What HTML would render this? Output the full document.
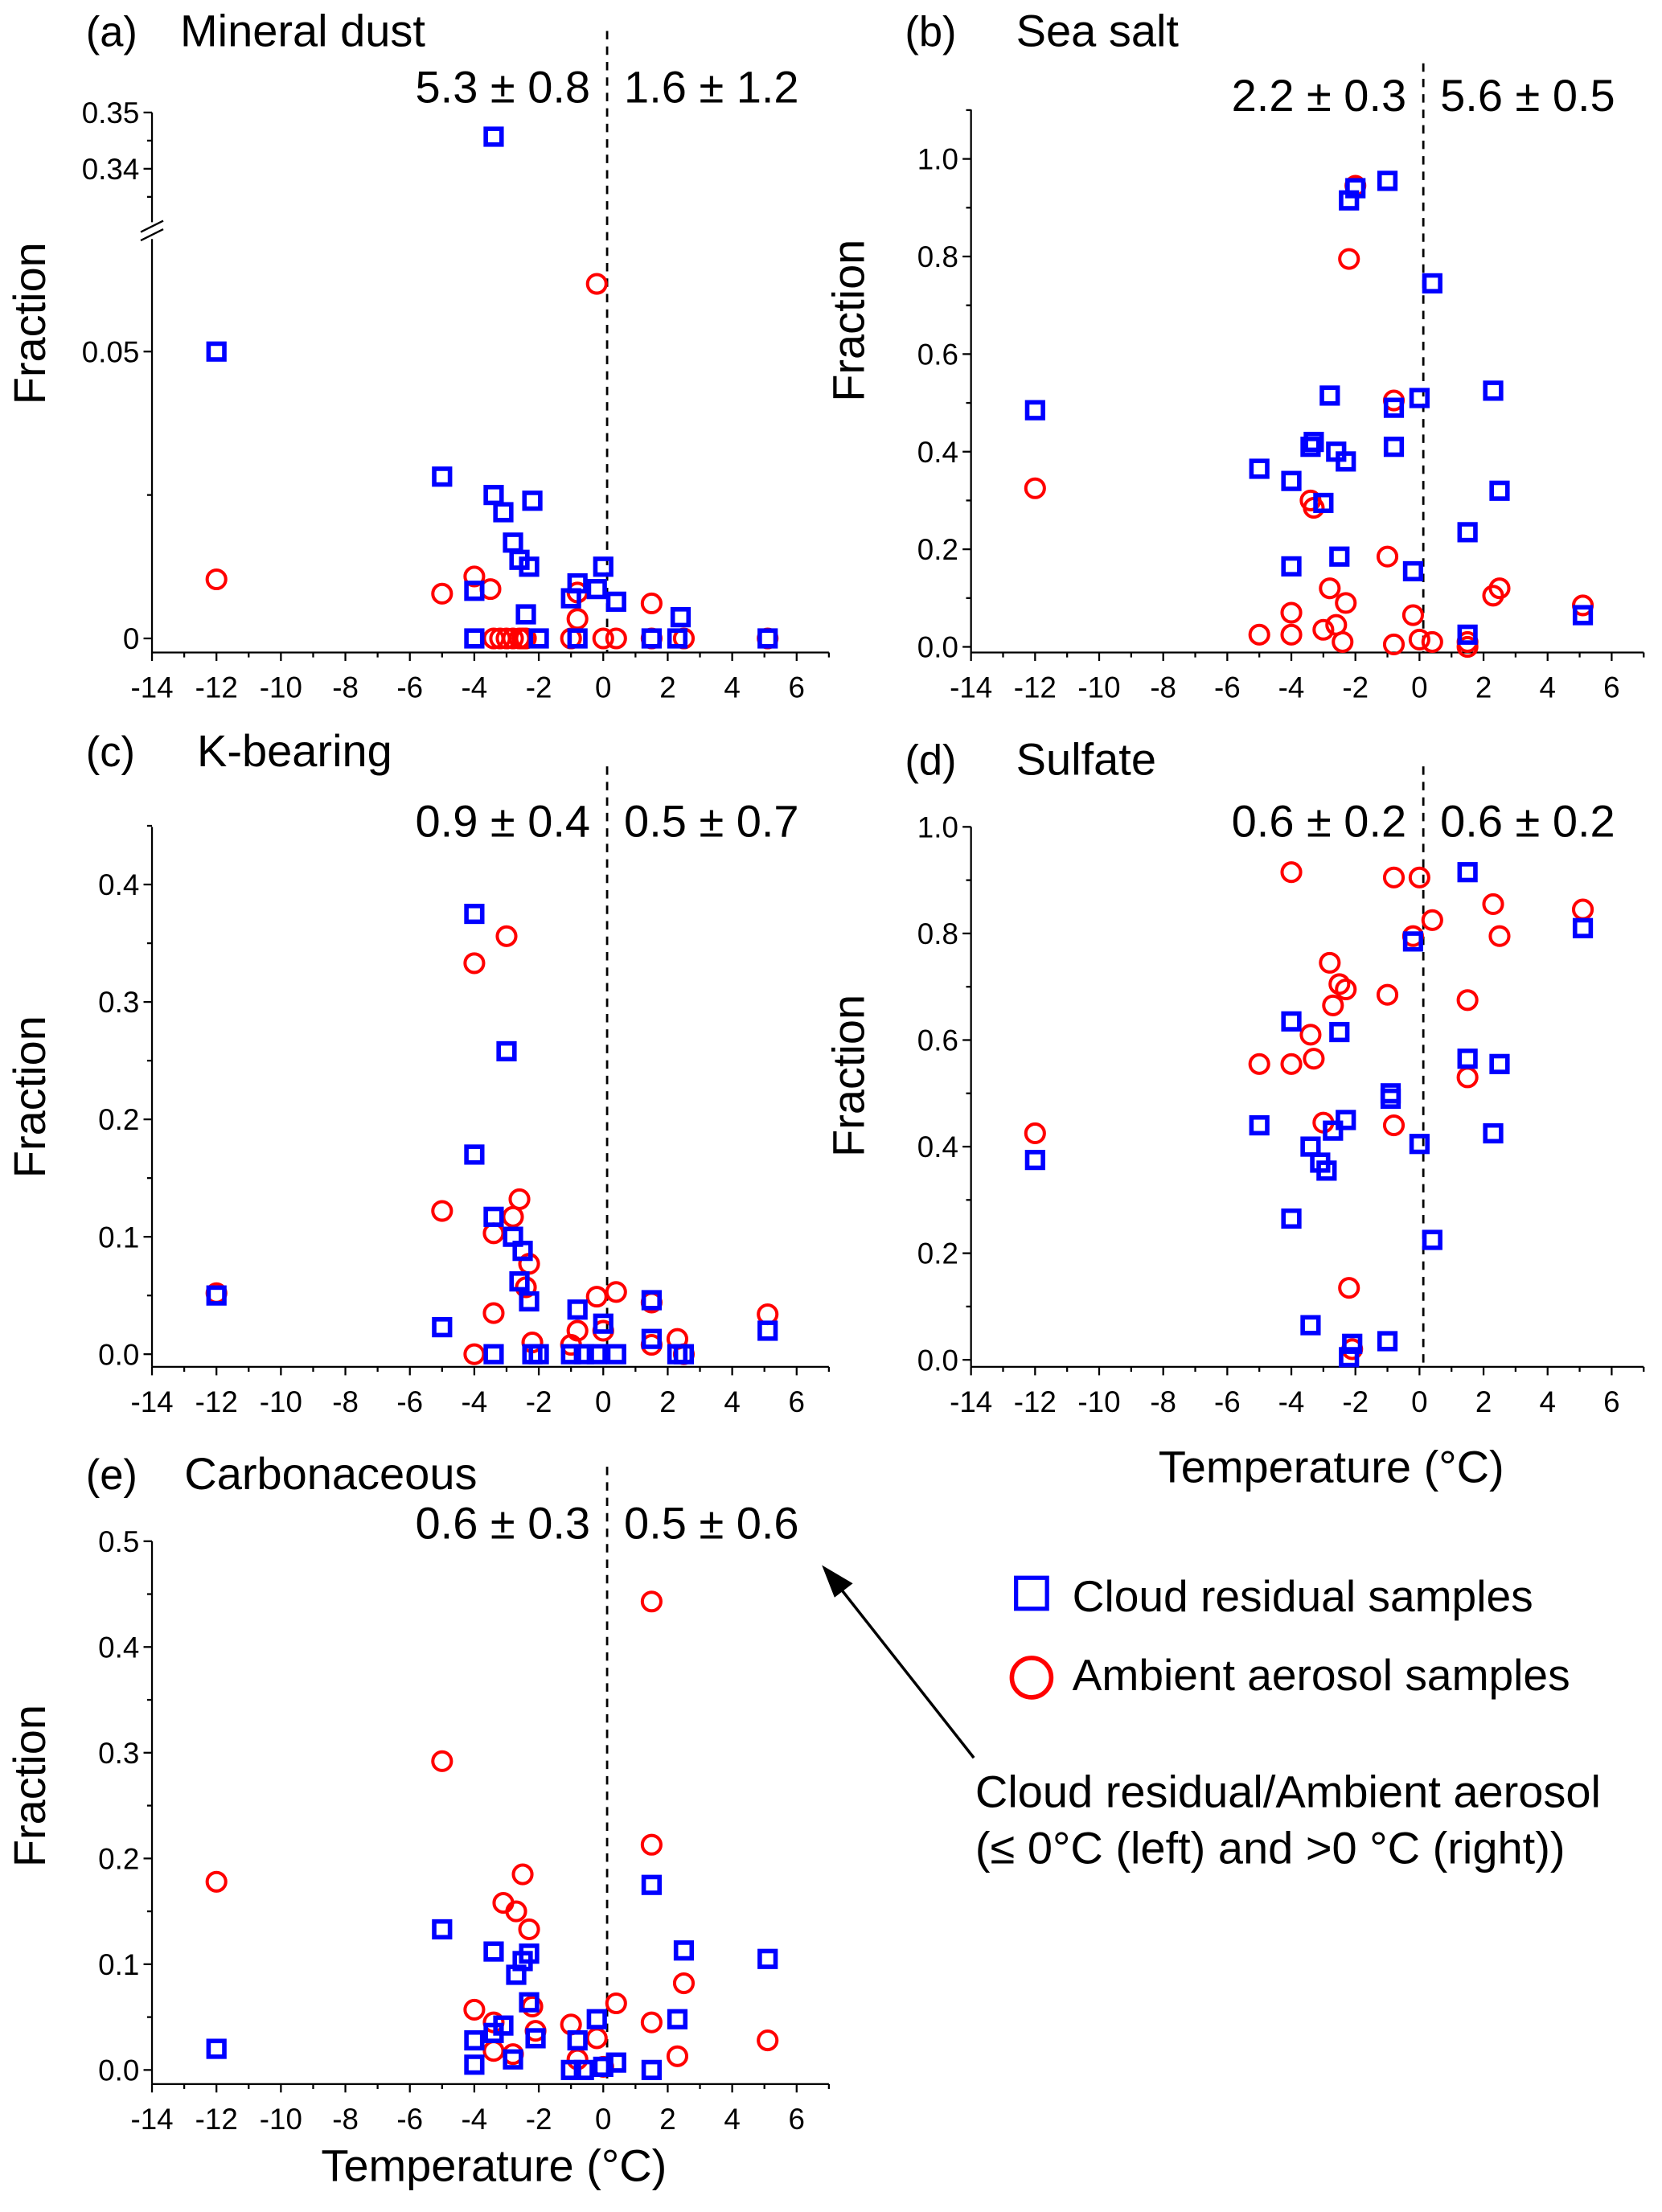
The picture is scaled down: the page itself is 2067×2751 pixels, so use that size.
<!DOCTYPE html>
<html><head><meta charset="utf-8">
<style>
html,body{margin:0;padding:0;background:#fff;}
svg{display:block;font-family:"Liberation Sans",Arial,sans-serif;}
</style></head>
<body>
<svg id="fig" width="2067" height="2751" viewBox="0 0 1181 1573" preserveAspectRatio="none" xmlns="http://www.w3.org/2000/svg">
<g id="root"></g>
</svg>
<script>
// ---- data (temperature °C, fraction) ----
const aBlueT = [-12,-5,-3.4,-3.1,-2.2,-2.8,-2.6,-2.3,-4,-2.4,-1.0,-0.8,-0.2,0,0.4,2.4,-4,-2,-0.8,1.5,2.3,5.1,-3.4];
const aBlueF = [0.05,0.0282,0.025,0.022,0.024,0.0167,0.0137,0.0125,0.0083,0.0042,0.007,0.0096,0.0086,0.0125,0.0064,0.0037,0,0,0,0,0,0,0.3457];
const aRedT = [-12,-5,-4,-3.5,-0.8,-0.8,1.5,-0.2,-3.4,-3.2,-3.0,-2.8,-2.6,-2.5,-2.4,-1.0,0,0.4,1.5,2.5,5.1];
const aRedF = [0.0103,0.0078,0.0108,0.0086,0.008,0.0034,0.0061,0.0618,0,0,0,0,0,0,0,0,0,0,0,0,0];

const bBlueT = [-12,-5,-4,-4,-3.4,-3.3,-3.0,-2.8,-2.6,-2.5,-2.3,-2.2,-2.0,-1.0,-0.8,-0.8,-0.2,0,0.4,1.5,1.5,2.3,2.5,5.1];
const bBlueF = [0.485,0.365,0.34,0.165,0.41,0.42,0.295,0.515,0.4,0.185,0.38,0.915,0.94,0.955,0.49,0.41,0.155,0.51,0.745,0.235,0.025,0.525,0.32,0.065];
const bRedT = [-12,-5,-4,-4,-3.4,-3.3,-3.0,-2.8,-2.6,-2.4,-2.3,-2.2,-2.0,-1.0,-0.8,-0.8,-0.2,0,0.4,1.5,1.5,2.3,2.5,5.1];
const bRedF = [0.325,0.025,0.07,0.025,0.3,0.285,0.035,0.12,0.045,0.01,0.09,0.795,0.945,0.185,0.505,0.005,0.065,0.015,0.01,0.01,0.0,0.105,0.12,0.085];

const cBlueT = [-12,-5,-4,-4,-3.4,-3.4,-3.0,-2.8,-2.6,-2.5,-2.3,-2.2,-2.0,-1.0,-0.8,-0.6,-0.2,0,0.4,1.5,1.5,2.3,2.5,5.1];
const cBlueF = [0.05,0.023,0.375,0.17,0.117,0.0,0.258,0.1,0.062,0.088,0.045,0.0,0.0,0.0,0.038,0.0,0.0,0.026,0.0,0.046,0.013,0.0,0.0,0.02];
const cRedT = [-12,-5,-4,-4,-3.4,-3.4,-3.0,-2.8,-2.6,-2.4,-2.3,-2.2,-1.0,-0.8,-0.2,0,0.4,1.5,1.5,2.3,2.5,5.1];
const cRedF = [0.052,0.122,0.333,0.0,0.035,0.103,0.356,0.117,0.132,0.057,0.077,0.01,0.008,0.02,0.049,0.02,0.053,0.044,0.008,0.013,0.0,0.034];

const dBlueT = [-12,-5,-4,-4,-3.4,-3.4,-3.1,-2.9,-2.7,-2.5,-2.3,-2.1,-2.2,-0.9,-0.9,-1.0,-0.2,0,0.4,1.5,1.5,2.3,2.5,5.1];
const dBlueF = [0.375,0.44,0.635,0.265,0.4,0.065,0.37,0.355,0.43,0.615,0.45,0.03,0.005,0.5,0.49,0.035,0.785,0.405,0.225,0.915,0.565,0.425,0.555,0.81];
const dRedT = [-12,-5,-4,-4,-3.4,-3.3,-3.0,-2.8,-2.7,-2.5,-2.3,-2.2,-2.1,-1.0,-0.8,-0.8,-0.2,0,0.4,1.5,1.5,2.3,2.5,5.1];
const dRedF = [0.425,0.555,0.915,0.555,0.61,0.565,0.445,0.745,0.665,0.705,0.695,0.135,0.02,0.685,0.905,0.44,0.795,0.905,0.825,0.675,0.53,0.855,0.795,0.845];

const eBlueT = [-12,-5,-4,-4,-3.4,-3.4,-3.1,-2.8,-2.7,-2.5,-2.3,-2.3,-2.1,-1.0,-0.8,-0.6,-0.2,0,0.4,1.5,1.5,2.3,2.5,5.1];
const eBlueF = [0.02,0.133,0.028,0.005,0.112,0.035,0.042,0.01,0.09,0.103,0.11,0.064,0.03,0.0,0.028,0.0,0.048,0.003,0.007,0.175,0.0,0.048,0.113,0.105];
const eRedT = [-12,-5,-4,-3.4,-3.4,-3.1,-2.8,-2.7,-2.5,-2.3,-2.2,-2.1,-1.0,-0.8,-0.2,0,0.4,1.5,1.5,1.5,2.3,2.5,5.1];
const eRedF = [0.178,0.292,0.057,0.045,0.018,0.158,0.015,0.15,0.185,0.133,0.06,0.037,0.043,0.01,0.03,0.003,0.063,0.443,0.213,0.045,0.013,0.082,0.028];

const xTickLabels = ["-14","-12","-10","-8","-6","-4","-2","0","2","4","6"];
const statsA = ["5.3 ± 0.8","1.6 ± 1.2"];
const statsB = ["2.2 ± 0.3","5.6 ± 0.5"];
const statsC = ["0.9 ± 0.4","0.5 ± 0.7"];
const statsD = ["0.6 ± 0.2","0.6 ± 0.2"];
const statsE = ["0.6 ± 0.3","0.5 ± 0.6"];

// ---- drawing ----
const NS = "http://www.w3.org/2000/svg";
const root = document.getElementById('root');
function mk(tag, attrs, parent, txt){
  const e = document.createElementNS(NS, tag);
  for (const k in attrs) e.setAttribute(k, attrs[k]);
  if (txt !== undefined) e.textContent = txt;
  (parent||root).appendChild(e);
  return e;
}
function line(x1,y1,x2,y2,p,extra){ const o={x1,y1,x2,y2,stroke:'#000','stroke-width':1.3}; Object.assign(o,extra||{}); return mk('line',o,p); }

function drawPanel(cfg){
  const g = mk('g',{});
  
  
  const L=cfg.left, R=cfg.right, B=cfg.bottom;
  const unit=(R-L)/21;
  const xs = v => L + (v+14)*unit;
  const ys = cfg.ys;
  const xa = line(L,B,R,B,g);
  
  
  for (let v=-14; v<=7; v++){
    const major = (v%2===0);
    line(xs(v),B,xs(v),B+(major?6:3.5),g);
  }
  xTickLabels.forEach((lab,i)=>{
    const v=-14+2*i;
    const t = mk('text',{x:xs(v),y:B+32,'text-anchor':'middle','font-size':21},g,lab);
    
    
  });
  cfg.ySegs.forEach(s=>{
    const ya=line(L,s[0],L,s[1],g);
    
    
  });
  cfg.yTicks.forEach(t=>{
    const y=ys(t[0]);
    line(L-(t[1]?6:3.5),y,L,y,g);
    if (t[1]) {
      const tl = mk('text',{x:L-9,y:y+7.5,'text-anchor':'end','font-size':21},g,t[1]);
      
      
    }
  });
  const yt = mk('text',{x:0,y:0,transform:`translate(${L-76},${cfg.yTitleY}) rotate(-90)`,'text-anchor':'middle','font-size':32},g,'Fraction');
  
  
  const pl = mk('text',{x:cfg.left-47,y:cfg.titleY,'font-size':30},g,cfg.label);
  
  
  const pt = mk('text',{x:cfg.titleX,y:cfg.titleY,'font-size':32},g,cfg.title);
  
  
  const dl = line(xs(0.12),cfg.dashTop,xs(0.12),B,g,{'stroke-dasharray':'6,5','stroke-width':1.6});
  
  
  const s1 = mk('text',{x:xs(0.12)-12,y:cfg.statsY,'text-anchor':'end','font-size':32},g,cfg.stats[0]);
  
  
  const s2 = mk('text',{x:xs(0.12)+12,y:cfg.statsY,'font-size':32},g,cfg.stats[1]);
  
  
  cfg.redT.forEach((t,i)=>{
    const c = mk('circle',{cx:xs(t),cy:ys(cfg.redF[i]),r:6.6,fill:'none',stroke:'#ff0000','stroke-width':2.3},g);
    
    
  });
  cfg.blueT.forEach((t,i)=>{
    const r = mk('rect',{x:xs(t)-5.6,y:ys(cfg.blueF[i])-5.6,width:11.2,height:11.2,fill:'none',stroke:'#0000ff','stroke-width':3.2},g);
    
    
  });
  return g;
}

function ysA(v){ return v>0.2 ? 120 - (v-0.34)*4000 : 454 - v*4080; }
const pa = drawPanel({name:'panel-a-mineral-dust',left:108,right:589,bottom:464,ys:ysA,
  ySegs:[[80,158],[170,464]],
  yTicks:[[0.35,'0.35'],[0.345,null],[0.34,'0.34'],[0.335,null],[0.05,'0.05'],[0.025,null],[0,'0']],
  yTitleY:230,label:'(a)',title:'Mineral dust',titleX:128,titleY:33,dashTop:22,statsY:73,stats:statsA,
  blueT:aBlueT,blueF:aBlueF,redT:aRedT,redF:aRedF});
line(100,165,116,157,pa); line(100,171,116,163,pa);

const yt01 = (lo,hi,step,labStep,dec)=>{ const out=[]; for(let v=lo; v<=hi+1e-9; v+=step){ const r=Math.round(v*1000)/1000; const isLab=Math.abs(Math.round(r/labStep)*labStep-r)<1e-6; out.push([r,isLab?r.toFixed(dec):null]); } return out; };

drawPanel({name:'panel-b-sea-salt',left:690,right:1168,bottom:464,ys:v=>460-v*347,
  ySegs:[[78,464]],yTicks:yt01(0,1.1,0.1,0.2,1),
  yTitleY:228,label:'(b)',title:'Sea salt',titleX:722,titleY:33,dashTop:45,statsY:79,stats:statsB,
  blueT:bBlueT,blueF:bBlueF,redT:bRedT,redF:bRedF});

drawPanel({name:'panel-c-k-bearing',left:108,right:589,bottom:972,ys:v=>963-v*835,
  ySegs:[[588,972]],yTicks:yt01(0,0.45,0.05,0.1,1),
  yTitleY:780,label:'(c)',title:'K-bearing',titleX:140,titleY:545,dashTop:545,statsY:595,stats:statsC,
  blueT:cBlueT,blueF:cBlueF,redT:cRedT,redF:cRedF});

drawPanel({name:'panel-d-sulfate',left:690,right:1168,bottom:972,ys:v=>967-v*379,
  ySegs:[[588,972]],yTicks:yt01(0,1.0,0.1,0.2,1),
  yTitleY:765,label:'(d)',title:'Sulfate',titleX:722,titleY:551,dashTop:545,statsY:595,stats:statsD,
  blueT:dBlueT,blueF:dBlueF,redT:dRedT,redF:dRedF});

drawPanel({name:'panel-e-carbonaceous',left:108,right:589,bottom:1482,ys:v=>1472-v*752,
  ySegs:[[1096,1482]],yTicks:yt01(0,0.5,0.05,0.1,1),
  yTitleY:1270,label:'(e)',title:'Carbonaceous',titleX:131,titleY:1059,dashTop:1043,statsY:1094,stats:statsE,
  blueT:eBlueT,blueF:eBlueF,redT:eRedT,redF:eRedF});

const xt1 = mk('text',{x:946,y:1054,'text-anchor':'middle','font-size':32},root,'Temperature (°C)');


const xt2 = mk('text',{x:351,y:1551,'text-anchor':'middle','font-size':32},root,'Temperature (°C)');



const lg = mk('g',{});


const l1 = mk('rect',{x:722,y:1122,width:22,height:22,fill:'none',stroke:'#0000ff','stroke-width':3},lg);


const l1t = mk('text',{x:762,y:1146,'font-size':31.5},lg,'Cloud residual samples');


const l2 = mk('circle',{cx:733,cy:1193,r:14,fill:'none',stroke:'#ff0000','stroke-width':3.2},lg);


const l2t = mk('text',{x:762,y:1202,'font-size':31.5},lg,'Ambient aerosol samples');



const an = mk('g',{});


line(692,1250,596,1128,an,{'stroke-width':2});
mk('polygon',{points:'584,1113 606,1126 593,1136',fill:'#000'},an);
mk('text',{x:693,y:1285,'font-size':32},an,'Cloud residual/Ambient aerosol');
mk('text',{x:693,y:1325,'font-size':32},an,'(≤ 0°C (left) and >0 °C (right))');
</script>
</body></html>
